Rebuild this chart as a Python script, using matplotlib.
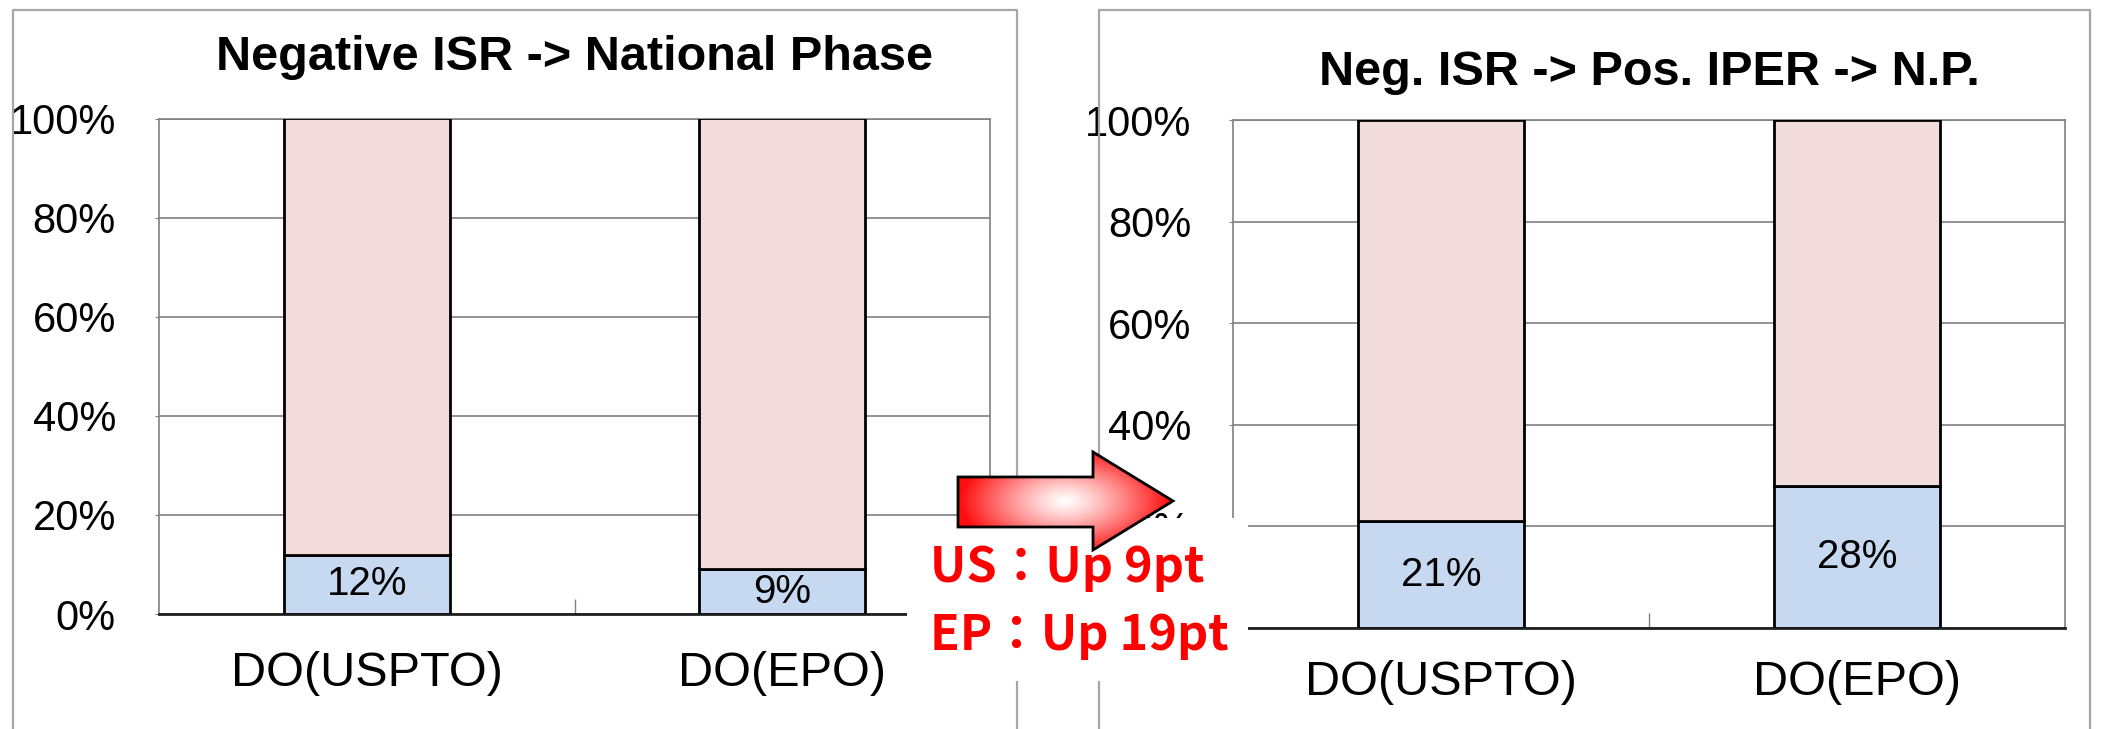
import numpy as np
import matplotlib
matplotlib.use('Agg')
import matplotlib.pyplot as plt
from matplotlib.patches import Polygon, Rectangle
from matplotlib.lines import Line2D

# data
categories = ['DO(USPTO)', 'DO(EPO)']
left_title = 'Negative ISR -> National Phase'
right_title = 'Neg. ISR -> Pos. IPER -> N.P.'
left_share = [12, 9]
right_share = [21, 28]
yticks = [0, 20, 40, 60, 80, 100]
note_lines = ['US\uff1aUp 9pt', 'EP\uff1aUp 19pt']

W, H = 2103, 729
FONT = ['Liberation Sans', 'DejaVu Sans']
BLUE = '#C6D9F1'
PINK = '#F2DCDB'

fig = plt.figure(figsize=(W / 100, H / 100), dpi=100)
fig.patch.set_facecolor('white')


def draw_panel(rect, title, shares, title_pad, xpad, ypad):
    ax = fig.add_axes(rect)
    x = np.arange(len(categories))
    rest = [100 - s for s in shares]
    ax.bar(x, shares, 0.4, color=BLUE, edgecolor='black', linewidth=2, zorder=3)
    ax.bar(x, rest, 0.4, bottom=shares, color=PINK, edgecolor='black', linewidth=2, zorder=3)
    for xi, s in zip(x, shares):
        ax.text(xi, s / 2, f'{s}%', ha='center', va='center', fontsize=29, family=FONT, zorder=4)
    ax.set_xlim(-0.5, 1.5)
    ax.set_ylim(0, 100)
    ax.set_yticks(yticks)
    ax.set_yticklabels([f'{v}%' for v in yticks], fontsize=30, family=FONT)
    ax.set_xticks(x)
    ax.set_xticklabels(categories, fontsize=35, family=FONT)
    ax.set_xticks([0.5], minor=True)
    ax.tick_params(axis='x', which='major', length=0, pad=xpad)
    ax.tick_params(axis='x', which='minor', direction='in', length=11, width=1, color='#808080')
    ax.tick_params(axis='y', length=3, color='#808080', pad=ypad)
    ax.yaxis.grid(True, color='#808080', linewidth=1.2)
    ax.set_axisbelow(True)
    for side in ['top', 'right', 'left']:
        ax.spines[side].set_color('#808080')
        ax.spines[side].set_linewidth(1.2)
    ax.spines['bottom'].set_color('#202020')
    ax.spines['bottom'].set_linewidth(2)
    ax.set_title(title, fontsize=35, fontweight='bold', family=FONT, pad=title_pad)
    return ax


draw_panel([159 / W, 1 - 614 / H, 831 / W, (614 - 118.5) / H], left_title, left_share, 35, 27, 28)
draw_panel([1233 / W, 1 - 628 / H, 832 / W, (628 - 120) / H], right_title, right_share, 25, 23, 27)

# overlay in pixel coordinates for frames, cover box and arrow
ov = fig.add_axes([0, 0, 1, 1], zorder=10)
ov.set_xlim(0, W)
ov.set_ylim(H, 0)
ov.axis('off')
ov.patch.set_alpha(0)

frame_kw = dict(color='#A6A6A6', linewidth=1.6)
for x0, x1 in [(13, 1017), (1099, 2090)]:
    ov.add_line(Line2D([x0, x0, x1, x1], [H, 10, 10, H], **frame_kw))

ov.add_patch(Rectangle((907, 518), 1248 - 907, 681 - 518, facecolor='white', edgecolor='none', zorder=2))

arrow_pts = [(958, 477), (1093, 477), (1093, 452), (1173, 501), (1093, 550), (1093, 527), (958, 527)]
arrow = Polygon(arrow_pts, closed=True, facecolor='none', edgecolor='black', linewidth=2, zorder=4)
ov.add_patch(arrow)

gx = np.linspace(955, 1176, 300)
gy = np.linspace(449, 553, 150)
GX, GY = np.meshgrid(gx, gy)
d = np.sqrt(((GX - 1065) / 105) ** 2 + ((GY - 501) / 55) ** 2)
t = np.clip(d, 0, 1) ** 1.2
img = np.zeros(GX.shape + (3,))
img[..., 0] = 1.0
img[..., 1] = 1 - t * 0.95
img[..., 2] = 1 - t * 0.95
im = ov.imshow(img, extent=(955, 1176, 553, 449), zorder=3, interpolation='bilinear', aspect='auto')
clip = Polygon(arrow_pts, closed=True, transform=ov.transData)
im.set_clip_path(clip)

for i, line in enumerate(note_lines):
    ov.text(930, 568 + i * 67, line, color='#FF0000', fontsize=35, fontweight='bold',
            family=['Noto Sans CJK JP', 'DejaVu Sans'], ha='left', va='center', zorder=5)

ov.set_xlim(0, W)
ov.set_ylim(H, 0)

fig.savefig('out.png', dpi=100)
